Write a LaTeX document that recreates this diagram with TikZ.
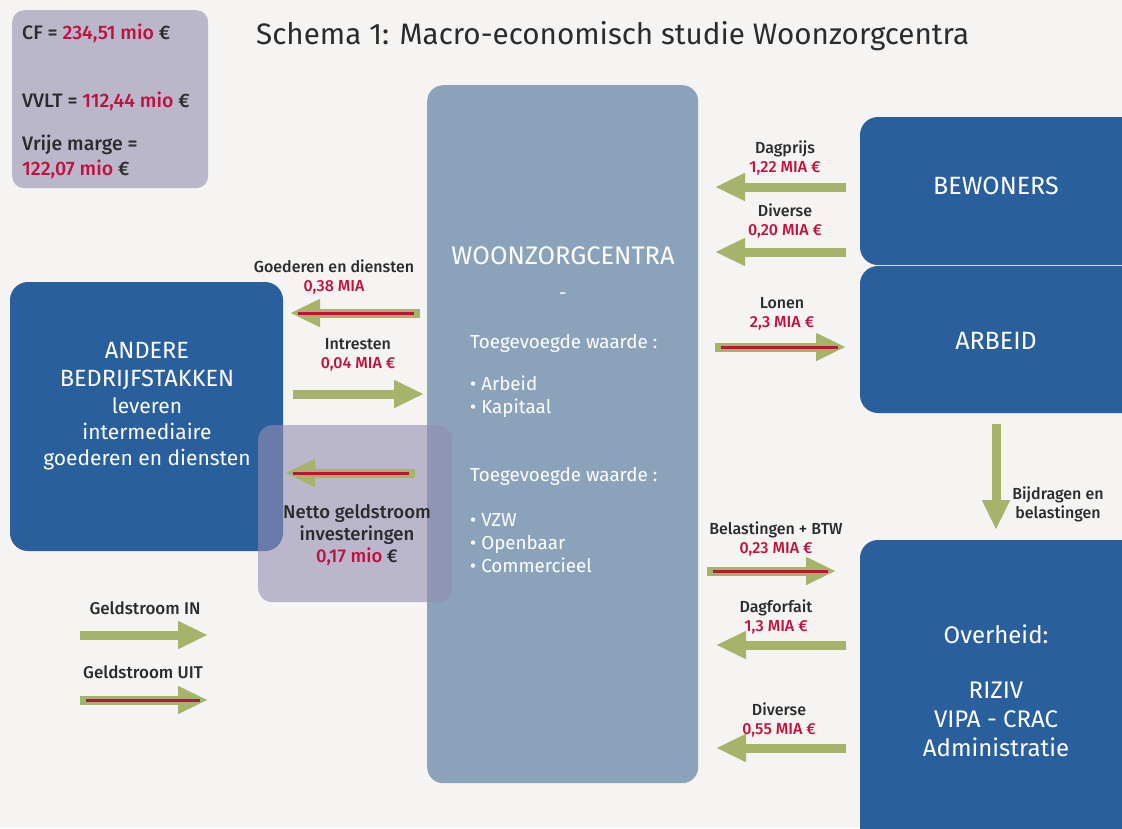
\documentclass[tikz,border=0pt]{standalone}
\usepackage{fontspec}
\setmainfont{Fira Sans}
\newfontfamily\medfont{Fira Sans Medium}
\usetikzlibrary{arrows.meta}
\definecolor{bgGrey}{HTML}{F5F4F2}
\definecolor{boxBlue}{HTML}{2A5F9E}
\definecolor{centreGrey}{HTML}{8BA3BA}
\definecolor{lilac}{HTML}{BAB7CB}
\definecolor{lilacDark}{RGB}{147,142,177}
\definecolor{flowGreen}{HTML}{A6B46B}
\definecolor{flowRed}{HTML}{C0103E}
\definecolor{textDark}{HTML}{2B2B2B}

\tikzset{
  block/.style={fill=boxBlue, rounded corners=18pt, anchor=north west, outer sep=0pt, inner sep=0pt},
  whitetxt/.style={text=white, align=center, inner sep=0pt},
  lbl/.style={font=\medfont\fontsize{16}{19}\selectfont, text=textDark, align=center, inner sep=0pt},
  flow/.style={draw=flowGreen, line width=9pt, -{Triangle[length=30pt,width=26pt]}},
  outflow/.style={draw=flowRed, line width=3pt, shorten <=6pt, shorten >=8pt},
}

\begin{document}
\begin{tikzpicture}[x=1pt, y=-1pt]

    % canvas
    \fill[bgGrey] (0,0) rectangle (1122,828);
    \useasboundingbox (0,0) rectangle (1122,828);

    % title
    \node[anchor=west, inner sep=0pt, text=textDark, font=\fontsize{29.6}{32}\selectfont] (title) at (256,36)
        {Schema 1: Macro-economisch studie Woonzorgcentra};

    % key figures
    \node[fill=lilac, rounded corners=12pt, anchor=north west, minimum width=196pt, minimum height=178pt] (kerncijfers) at (12,10) {};
    \begin{scope}[font=\medfont\fontsize{19.5}{24}\selectfont, text=textDark]
    \node[anchor=west, inner sep=0pt] (cf) at (22,33) {CF = \textcolor{flowRed}{234,51 mio} €};
    \node[anchor=west, inner sep=0pt] (vvlt) at (22,101) {VVLT = \textcolor{flowRed}{112,44 mio} €};
    \node[anchor=west, inner sep=0pt] (marge) at (22,145) {Vrije marge =};
    \node[anchor=west, inner sep=0pt] (margeval) at (22,169) {\textcolor{flowRed}{122,07 mio} €};
    \end{scope}

    % centre
    \node[fill=centreGrey, rounded corners=16pt, anchor=north west, minimum width=271pt, minimum height=698pt] (wzc) at (427,85) {};
    \node[whitetxt, font=\fontsize{25.4}{28}\selectfont] (wzctitle) at (563,256) {WOONZORGCENTRA};
    \node[whitetxt, font=\fontsize{18.8}{23}\selectfont] (dash) at (563,296) {-};
    \begin{scope}[font=\fontsize{18.8}{23}\selectfont]
    \node[whitetxt, anchor=west] (tw1) at (470,343) {Toegevoegde waarde :};
    \node[whitetxt, anchor=west, align=left] (tw1list) at (470,397) {• Arbeid\\• Kapitaal};
    \node[whitetxt, anchor=west] (tw2) at (470,476) {Toegevoegde waarde :};
    \node[whitetxt, anchor=west, align=left] (tw2list) at (470,543) {• VZW\\• Openbaar\\• Commercieel};
    \end{scope}

    % other sectors
    \node[block, minimum width=273pt, minimum height=269pt] (andere) at (10,282) {};
    \node[whitetxt, font=\fontsize{23.5}{28}\selectfont] (anderetxt) at (147,366) {ANDERE\\BEDRIJFSTAKKEN};
    \node[whitetxt, font=\fontsize{21}{26}\selectfont] (leveren) at (147,434) {leveren\\intermediaire\\goederen en diensten};

    % right-hand blocks
    \node[block, minimum width=300pt, minimum height=148pt] (bewoners) at (860,117) {};
    \node[whitetxt, font=\fontsize{25}{26}\selectfont] (bewonerstxt) at (996,186) {BEWONERS};
    \node[block, minimum width=300pt, minimum height=147pt] (arbeid) at (860,266) {};
    \node[whitetxt, font=\fontsize{25}{26}\selectfont] (arbeidtxt) at (996,341) {ARBEID};
    \node[block, minimum width=300pt, minimum height=320pt] (overheid) at (860,540) {};
    \node[whitetxt, font=\fontsize{24}{28}\selectfont] (overheidtxt) at (996,634) {Overheid:};
    \node[whitetxt, font=\fontsize{24}{29}\selectfont] (riziv) at (996,719) {RIZIV\\VIPA - CRAC\\Administratie};

    % net investments (overlay)
    \node[fill=lilacDark, fill opacity=0.6, rounded corners=14pt, anchor=north west, minimum width=194pt, minimum height=177pt] (netto) at (258,425) {};
    \coordinate (nettoS) at (415,473);
    \coordinate (nettoE) at (285,473);
    \draw[flow] (nettoS) -- (nettoE);
    \draw[outflow] (nettoS) -- (nettoE);
    \node[lbl, font=\medfont\fontsize{18.5}{22}\selectfont] (nettotxt) at (357,535)
        {Netto geldstroom\\investeringen\\\textcolor{flowRed}{0,17 mio} €};

    % flows with other sectors
    \coordinate (goedS) at (420,313);
    \coordinate (goedE) at (290,313);
    \draw[flow] (goedS) -- (goedE);
    \draw[outflow] (goedS) -- (goedE);
    \node[lbl] (goedtxt) at (334,277) {Goederen en diensten\\\textcolor{flowRed}{0,38 MIA}};

    \coordinate (intS) at (293,394);
    \coordinate (intE) at (424,394);
    \draw[flow] (intS) -- (intE);
    \node[lbl] (inttxt) at (358,355) {Intresten\\\textcolor{flowRed}{0,04 MIA €}};

    % flows with residents
    \coordinate (dagS) at (846,187);
    \coordinate (dagE) at (715,187);
    \draw[flow] (dagS) -- (dagE);
    \node[lbl] (dagtxt) at (785,158) {Dagprijs\\\textcolor{flowRed}{1,22 MIA €}};

    \coordinate (divS) at (846,252);
    \coordinate (divE) at (715,252);
    \draw[flow] (divS) -- (divE);
    \node[lbl] (divtxt) at (785,221) {Diverse\\\textcolor{flowRed}{0,20 MIA €}};

    % wages
    \coordinate (lonS) at (715,347);
    \coordinate (lonE) at (846,347);
    \draw[flow] (lonS) -- (lonE);
    \draw[outflow] (lonS) -- (lonE);
    \node[lbl] (lontxt) at (782,314) {Lonen\\\textcolor{flowRed}{2,3 MIA €}};

    % contributions to government
    \coordinate (bijS) at (996,424);
    \coordinate (bijE) at (996,530);
    \draw[flow] (bijS) -- (bijE);
    \node[lbl] (bijtxt) at (1058,504) {Bijdragen en\\belastingen};

    % flows with government
    \coordinate (belS) at (707,571);
    \coordinate (belE) at (836,571);
    \draw[flow] (belS) -- (belE);
    \draw[outflow] (belS) -- (belE);
    \node[lbl] (beltxt) at (776,539) {Belastingen + BTW\\\textcolor{flowRed}{0,23 MIA €}};

    \coordinate (forfS) at (846,645);
    \coordinate (forfE) at (716,645);
    \draw[flow] (forfS) -- (forfE);
    \node[lbl] (forftxt) at (776,617) {Dagforfait\\\textcolor{flowRed}{1,3 MIA €}};

    \coordinate (div2S) at (846,748);
    \coordinate (div2E) at (716,748);
    \draw[flow] (div2S) -- (div2E);
    \node[lbl] (div2txt) at (779,720) {Diverse\\\textcolor{flowRed}{0,55 MIA €}};

    % legend
    \node[lbl, font=\medfont\fontsize{17}{19}\selectfont] (legin) at (145,608) {Geldstroom IN};
    \coordinate (leginS) at (80,635);
    \coordinate (leginE) at (208,635);
    \draw[flow] (leginS) -- (leginE);

    \node[lbl, font=\medfont\fontsize{17}{19}\selectfont] (leguit) at (143,672) {Geldstroom UIT};
    \coordinate (leguitS) at (80,700);
    \coordinate (leguitE) at (208,700);
    \draw[flow] (leguitS) -- (leguitE);
    \draw[outflow] (leguitS) -- (leguitE);

\end{tikzpicture}
\end{document}
